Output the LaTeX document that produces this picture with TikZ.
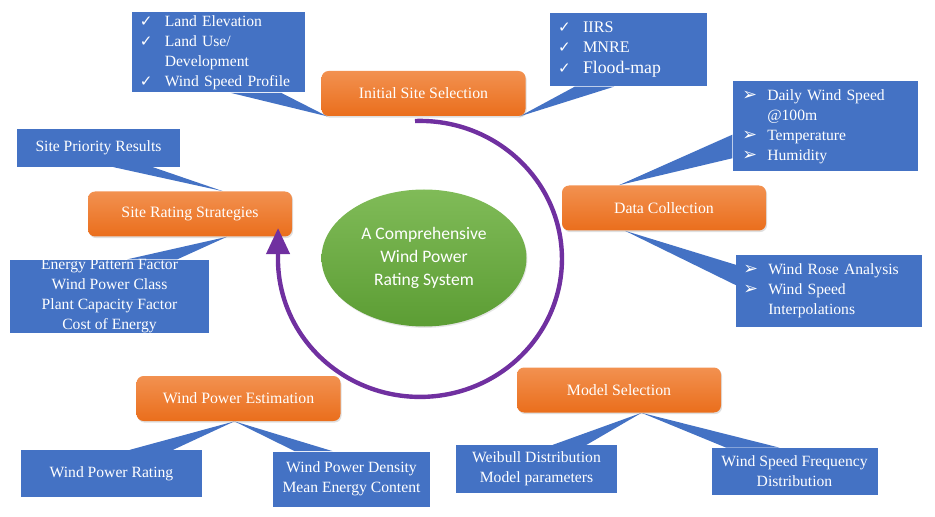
\documentclass[tikz,border=0pt]{standalone}
\usepackage{fontspec}
\setmainfont{Liberation Serif}
\newfontfamily\calibrifont{Carlito}
\newfontfamily\symbolfont{DejaVu Sans}
\usetikzlibrary{arrows.meta,positioning,calc,shapes.geometric,shadows,backgrounds}

\definecolor{stagetop}{HTML}{F29150}
\definecolor{stagebottom}{HTML}{EA6E1C}
\definecolor{notesblue}{HTML}{4472C4}
\definecolor{coretop}{HTML}{80BB58}
\definecolor{corebottom}{HTML}{5C9D34}
\definecolor{cyclepurple}{HTML}{7030A0}

\newcommand{\chkmark}{\makebox[.5cm][l]{{\symbolfont\fontsize{8.6}{9}\selectfont ✓}}}
\newcommand{\arrowmark}{\makebox[.5cm][l]{{\symbolfont\fontsize{10}{9}\selectfont ➢}}}

\begin{document}
\begin{tikzpicture}[
  stage/.style={rounded corners=4pt,top color=stagetop,bottom color=stagebottom,
    minimum width=4.08cm,minimum height=.9cm,text=white,
    font=\fontsize{9}{11}\selectfont,
    drop shadow={shadow xshift=.6pt,shadow yshift=-.9pt,opacity=.25}},
  note/.style={fill=notesblue,text=white,inner sep=0pt,align=center,
    font=\fontsize{8.9}{11.4}\selectfont},
  notelist/.style={note,align=left},
  core/.style={ellipse,top color=coretop,bottom color=corebottom,
    minimum width=4.1cm,minimum height=2.74cm,inner sep=0pt,text=white,
    align=center,font=\calibrifont\fontsize{10}{13}\selectfont,
    drop shadow={shadow xshift=.5pt,shadow yshift=-.8pt,opacity=.2}},
  cyclearc/.style={line width=2.5pt,draw=cyclepurple,
    -{Triangle[length=5.2mm,width=4.6mm]}}
]
\useasboundingbox (0,0) rectangle (18.7,-10.34);

% Five stages round the cycle.
\node[stage] (isel) at (8.47,-1.87) {Initial Site Selection};
\node[stage] (dcol) at (13.28,-4.16) {Data Collection};
\node[stage] (msel) at (12.38,-7.80) {Model Selection};
\node[stage] (wpe) at (4.77,-7.97) {Wind Power Estimation};
\node[stage] (srat) at (3.80,-4.28) {Site Rating Strategies};

% The rating system in the middle and the arc that runs past every stage.
\node[core] (core) at (8.48,-5.16) {A Comprehensive\\Wind Power\\Rating System};
\coordinate (arcstart) at (8.30,-2.42);
\draw[cyclearc] (arcstart)
  arc[start angle=92,end angle=-182,x radius=2.84,y radius=2.76] -- ++(0,.52);

% Notes for each stage.
\node[notelist,text width=3.15cm,inner xsep=.16cm,minimum height=1.6cm]
  (cb1) at (4.37,-1.05)
  {\chkmark Land Elevation\\ \chkmark Land Use/\\ \hspace*{.5cm}Development\\
   \chkmark Wind Speed Profile};
\node[notelist,text width=2.82cm,inner xsep=.16cm,minimum height=1.47cm,
  font=\fontsize{9.2}{11.6}\selectfont]
  (cb2) at (12.57,-.99)
  {\chkmark IIRS\\ \chkmark MNRE\\ \chkmark{\fontsize{10.1}{12.5}\selectfont Flood-map}};
\node[notelist,text width=3.33cm,inner xsep=.19cm,minimum height=1.8cm]
  (cb3) at (16.51,-2.53)
  {\arrowmark Daily Wind Speed\\ \hspace*{.5cm}@100m\\ \arrowmark Temperature\\
   \arrowmark Humidity};
\node[notelist,text width=3.43cm,inner xsep=.14cm,minimum height=1.44cm]
  (cb4) at (16.58,-5.82)
  {\arrowmark Wind Rose Analysis\\ \arrowmark Wind Speed\\ \hspace*{.5cm}Interpolations};
\node[note,minimum width=3.27cm,minimum height=.75cm] (cb5) at (1.97,-2.96)
  {Site Priority Results};
\node[note,minimum width=3.98cm,minimum height=1.46cm] (cb6) at (2.19,-5.93)
  {Energy Pattern Factor\\Wind Power Class\\Plant Capacity Factor\\Cost of Energy};
\node[note,minimum width=3.6cm,minimum height=.93cm] (cb7) at (2.23,-9.47)
  {Wind Power Rating};
\node[note,minimum width=3.14cm,minimum height=1.1cm] (cb8) at (7.03,-9.58)
  {Wind Power Density\\Mean Energy Content};
\node[note,minimum width=3.21cm,minimum height=.95cm] (cb9) at (10.73,-9.38)
  {Weibull Distribution\\Model parameters};
\node[note,minimum width=3.32cm,minimum height=.94cm] (cb10) at (15.89,-9.43)
  {Wind Speed Frequency\\Distribution};

% Wedges from each note to its stage, behind both.
\begin{scope}[on background layer]
\foreach \note/\na/\nb/\fa/\fb/\stg/\sa/\sb/\ft in {
  cb1/south west/south east/.57/.86/isel/south west/south east/.03,
  cb2/south west/south east/.16/.41/isel/south west/south east/.97,
  cb3/north west/south west/.59/.85/dcol/north west/north east/.28,
  cb4/north west/south west/.14/.42/dcol/south west/south east/.31,
  cb5/south west/south east/.59/.83/srat/north west/north east/.66,
  cb6/north west/north east/.59/.84/srat/south west/south east/.68,
  cb7/north west/north east/.60/.84/wpe/south west/south east/.48,
  cb8/north west/north east/.14/.38/wpe/south west/south east/.48,
  cb9/north west/north east/.60/.81/msel/south west/south east/.61,
  cb10/north west/north east/.09/.41/msel/south west/south east/.61}{
  \fill[notesblue] ($(\note.\na)!\fa!(\note.\nb)$)
    -- ($(\stg.\sa)!\ft!(\stg.\sb)$) -- ($(\note.\na)!\fb!(\note.\nb)$) -- cycle;
}
\end{scope}
\end{tikzpicture}
\end{document}
